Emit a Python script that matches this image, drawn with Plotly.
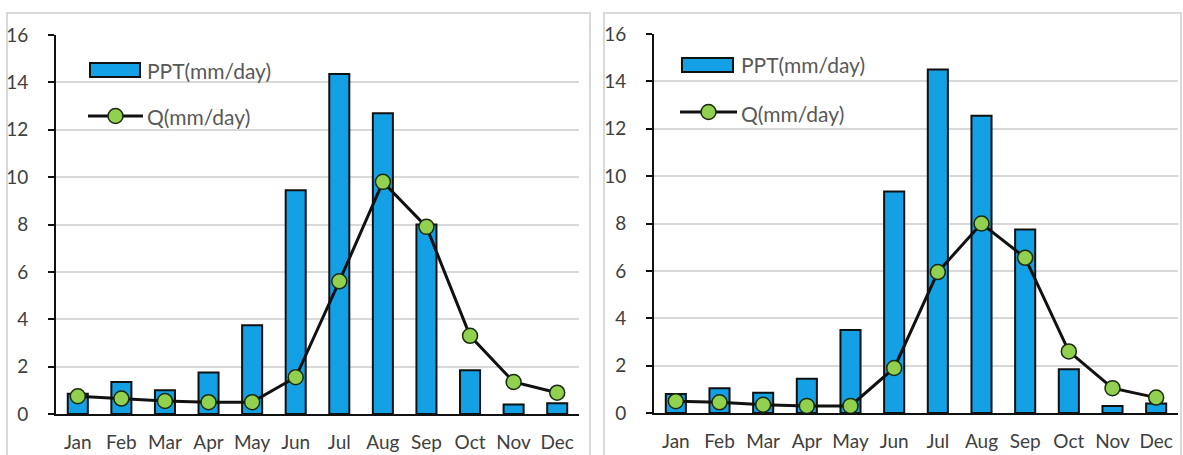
import plotly.graph_objects as go

W, H = 1183, 455

months = ["Jan", "Feb", "Mar", "Apr", "May", "Jun", "Jul", "Aug", "Sep", "Oct", "Nov", "Dec"]

# Left panel
ppt_a = [0.85, 1.35, 1.0, 1.75, 3.75, 9.45, 14.35, 12.7, 8.0, 1.85, 0.4, 0.45]
q_a = [0.75, 0.65, 0.55, 0.5, 0.5, 1.55, 5.6, 9.8, 7.9, 3.3, 1.35, 0.9]

# Right panel
ppt_b = [0.8, 1.05, 0.85, 1.45, 3.5, 9.35, 14.5, 12.55, 7.75, 1.85, 0.3, 0.4]
q_b = [0.5, 0.45, 0.35, 0.3, 0.3, 1.9, 5.95, 8.0, 6.55, 2.6, 1.05, 0.65]

yticks = [0, 2, 4, 6, 8, 10, 12, 14, 16]

BAR = "#14a0e4"
DOT = "#92d050"
GRID = "#d9d9d9"
TXT = "#404040"
FONT = "Lato"


def px(x):
    return x / W


def py(y):
    return 1 - y / H


fig = go.Figure()

for i, (ppt, q) in enumerate([(ppt_a, q_a), (ppt_b, q_b)]):
    xa = "x" if i == 0 else "x2"
    ya = "y" if i == 0 else "y2"
    fig.add_trace(go.Bar(
        x=months, y=ppt, name="PPT(mm/day)", xaxis=xa, yaxis=ya,
        marker=dict(color=BAR, line=dict(color="#111111", width=2)),
        width=0.46, showlegend=False,
    ))
    fig.add_trace(go.Scatter(
        x=months, y=q, name="Q(mm/day)", xaxis=xa, yaxis=ya, mode="lines+markers",
        line=dict(color="#111111", width=3),
        marker=dict(color=DOT, size=15, line=dict(color="#1a2a10", width=1.5)),
        showlegend=False,
    ))

xcommon = dict(
    type="category", range=[-0.5, 11.5], showline=True, linecolor="#111111", linewidth=2,
    ticks="", showgrid=False, tickfont=dict(family=FONT, size=19, color=TXT),
    ticklabelstandoff=10, fixedrange=True, automargin=False,
)
ycommon = dict(
    range=[0, 16], tickvals=yticks, showline=True, linecolor="#111111", linewidth=2,
    ticks="outside", ticklen=6, tickwidth=2, tickcolor="#111111",
    showgrid=True, gridcolor=GRID, gridwidth=2, zeroline=False,
    tickfont=dict(family=FONT, size=19, color=TXT), ticklabelstandoff=16,
    automargin=False, fixedrange=True,
)

fig.update_layout(
    width=W, height=H, margin=dict(l=0, r=0, t=0, b=0, autoexpand=False),
    paper_bgcolor="white", plot_bgcolor="white", bargap=0.5,
    xaxis=dict(domain=[px(56), px(579)], anchor="y", **xcommon),
    yaxis=dict(domain=[py(414), py(35)], anchor="x", **ycommon),
    xaxis2=dict(domain=[px(654), px(1178)], anchor="y2", **xcommon),
    yaxis2=dict(domain=[py(413), py(34)], anchor="x2", **ycommon),
)

shapes = []
annotations = []

# Panel frames
for x0, x1 in [(7, 590), (604, 1181)]:
    shapes.append(dict(type="rect", xref="paper", yref="paper",
                       x0=px(x0), x1=px(x1), y0=py(470), y1=py(13),
                       line=dict(color=GRID, width=2), layer="below"))

# Legends
for (rx0, rx1, ry, lx0, lx1, ly, tx) in [
    (90, 140, 70, 88, 143, 116, 145),
    (682, 733, 65, 680, 737, 112, 739),
]:
    shapes.append(dict(type="rect", xref="paper", yref="paper",
                       x0=px(rx0), x1=px(rx1), y0=py(ry + 7), y1=py(ry - 7),
                       fillcolor=BAR, line=dict(color="#111111", width=2)))
    shapes.append(dict(type="line", xref="paper", yref="paper",
                       x0=px(lx0), x1=px(lx1), y0=py(ly), y1=py(ly),
                       line=dict(color="#111111", width=3)))
    cx = (lx0 + lx1) / 2
    shapes.append(dict(type="circle", xref="paper", yref="paper",
                       x0=px(cx - 7.5), x1=px(cx + 7.5), y0=py(ly + 7.5), y1=py(ly - 7.5),
                       fillcolor=DOT, line=dict(color="#1a2a10", width=1.5)))
    annotations.append(dict(xref="paper", yref="paper", x=px(tx), y=py(ry),
                            text="PPT(mm/day)", showarrow=False, xanchor="left", yanchor="middle",
                            font=dict(family=FONT, size=21, color="#595959")))
    annotations.append(dict(xref="paper", yref="paper", x=px(tx), y=py(ly + 1),
                            text="Q(mm/day)", showarrow=False, xanchor="left", yanchor="middle",
                            font=dict(family=FONT, size=21, color="#595959")))

fig.update_layout(shapes=shapes, annotations=annotations)

fig.write_html("out.html")
